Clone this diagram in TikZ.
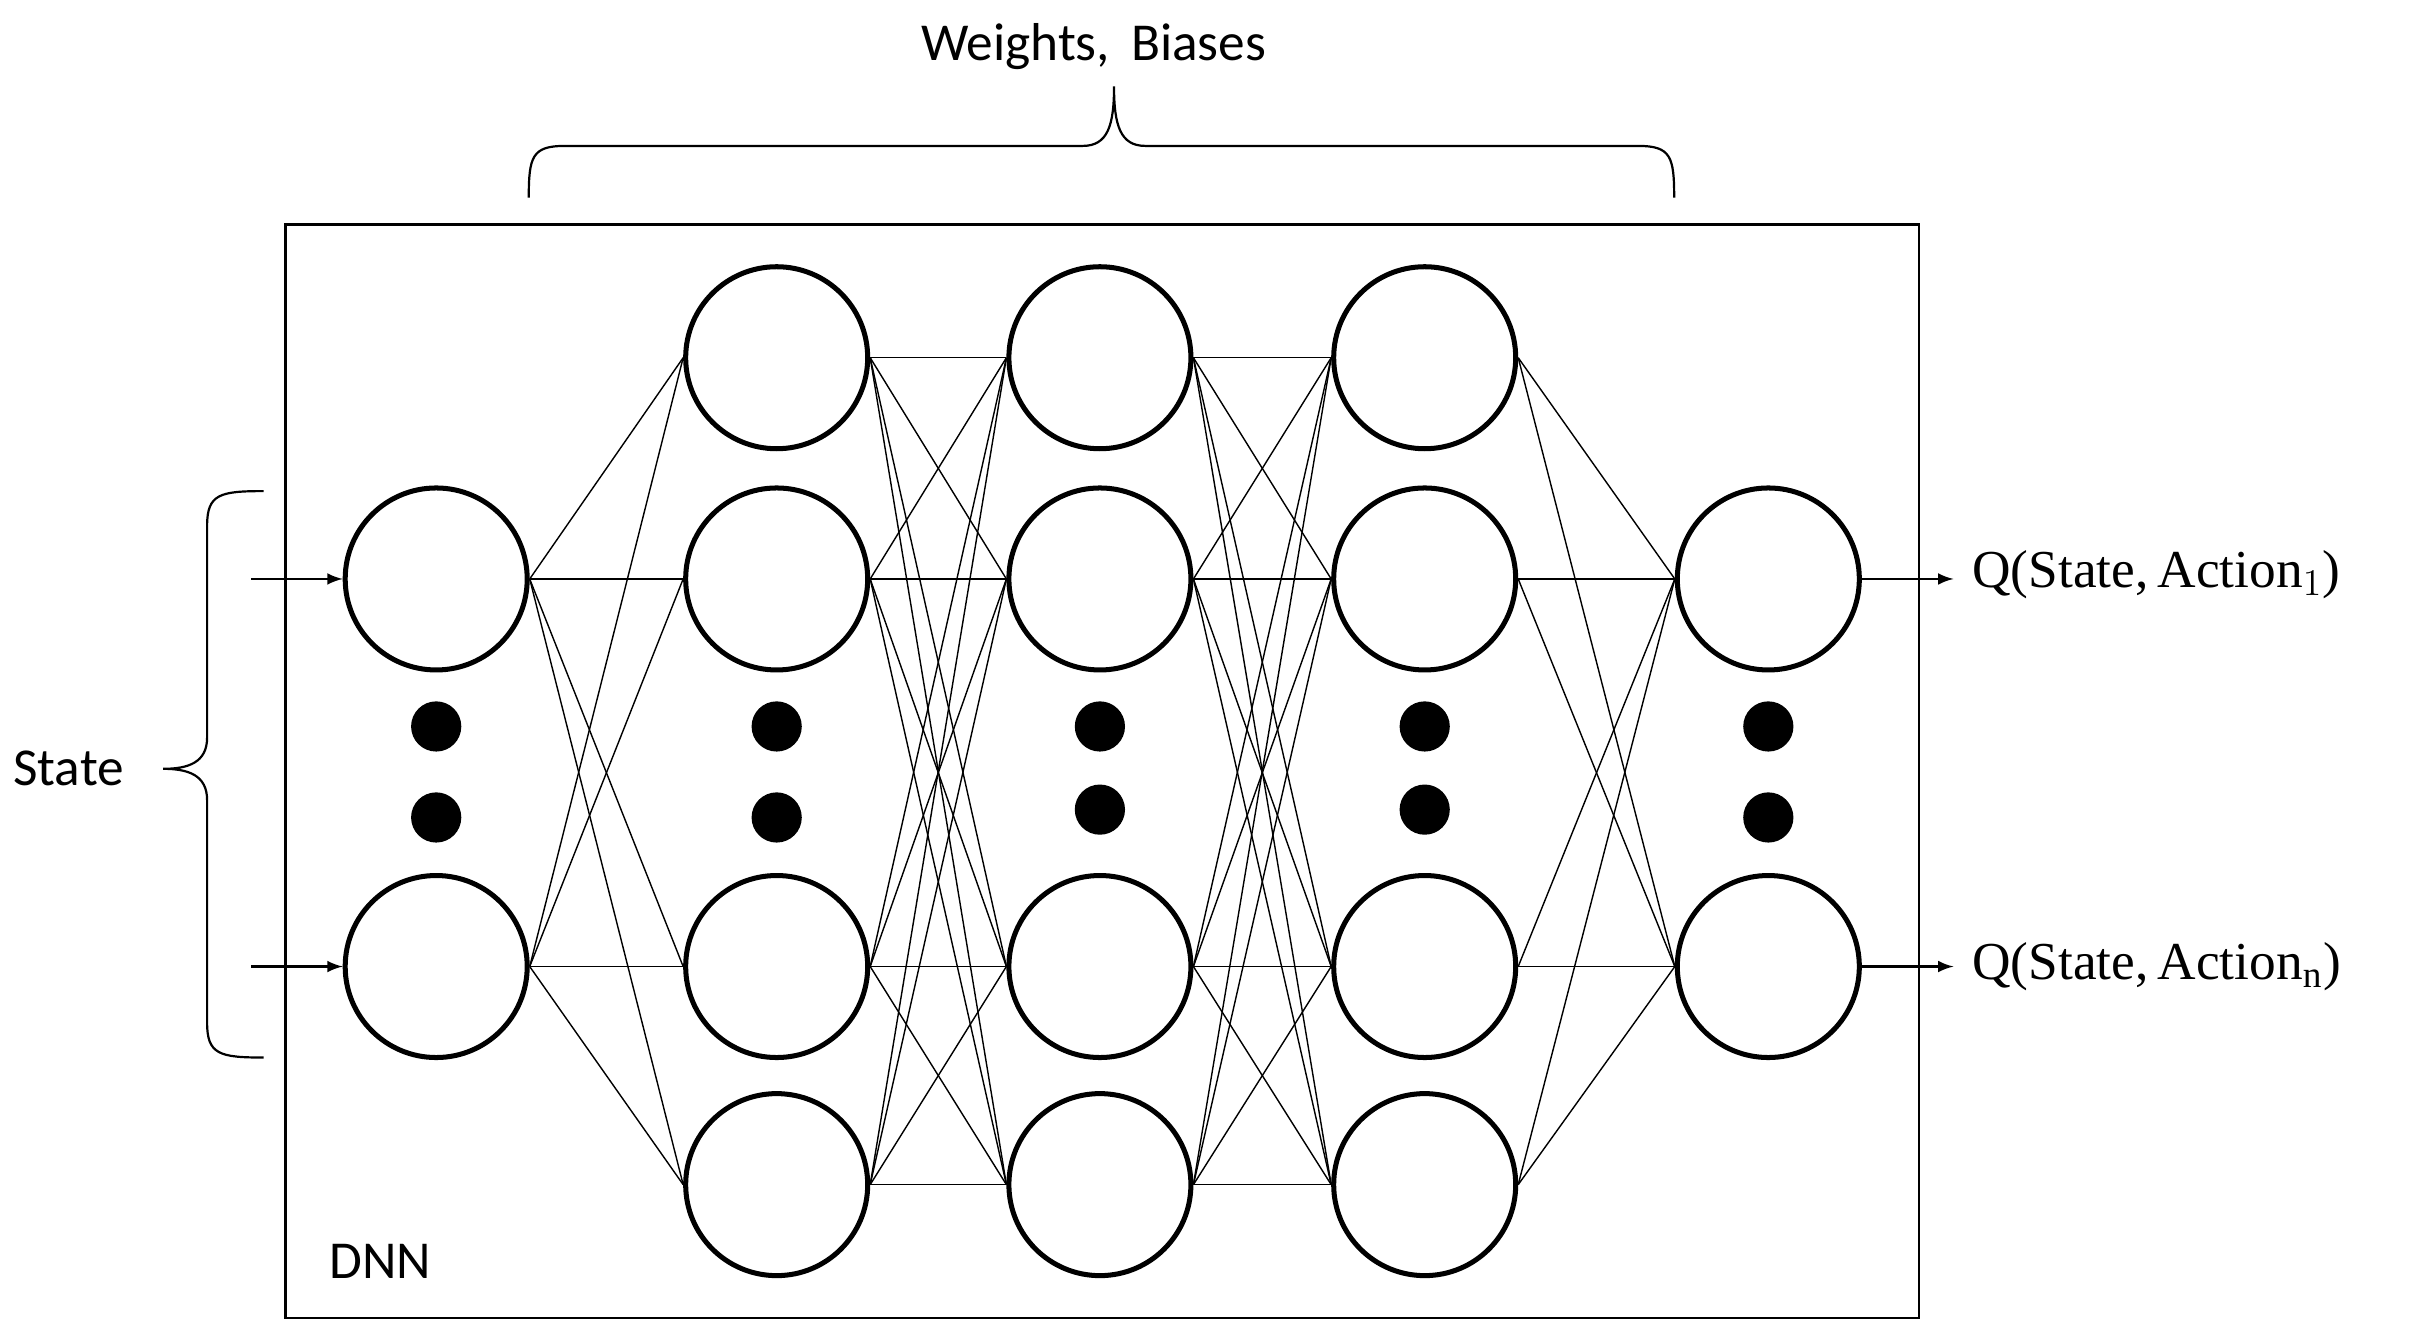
\documentclass[tikz,border=0pt]{standalone}
\usepackage{fontspec}
\setmainfont{Liberation Serif}
\newfontfamily\sansf{Carlito}
\begin{document}
\begin{tikzpicture}[x=0.5pt,y=-0.5pt,
  neuron/.style={circle,draw,line width=1.6pt,minimum size=58pt,inner sep=0pt,fill=white},
  dot/.style={circle,fill,minimum size=16pt,inner sep=0pt},
  conn/.style={line width=0.45pt},
  arr/.style={line width=0.7pt,-latex},
  brace/.style={line width=0.7pt},
  lab/.style={font=\sansf\fontsize{17}{20}\selectfont}]
\useasboundingbox (0,0) rectangle (1550,849);
\node[draw,line width=0.8pt,minimum width=520.5pt,minimum height=348.5pt,inner sep=0pt] (box) at (702.5,491.5) {};
\node[lab,anchor=south west] (dnn) at (203,822) {DNN};
% connections first (behind neurons)
\foreach \x/\n in {278/1,1127/5}{
  \coordinate (c\n r2) at (\x,369);
  \coordinate (c\n r3) at (\x,616);
}
\foreach \x/\n in {495/2,701/3,908/4}{
  \coordinate (c\n r1) at (\x,228);
  \coordinate (c\n r2) at (\x,369);
  \coordinate (c\n r3) at (\x,616);
  \coordinate (c\n r4) at (\x,755);
}
% layers
\foreach \x/\n in {278/1,1127/5}{
  \node[neuron] (l\n r2) at (\x,369) {};
  \node[neuron] (l\n r3) at (\x,616) {};
  \node[dot] (d\n a) at (\x,463) {};
  \node[dot] (d\n b) at (\x,521) {};
}
\foreach \x/\n/\yb in {495/2/521,701/3/516,908/4/516}{
  \node[neuron] (l\n r1) at (\x,228) {};
  \node[neuron] (l\n r2) at (\x,369) {};
  \node[neuron] (l\n r3) at (\x,616) {};
  \node[neuron] (l\n r4) at (\x,755) {};
  \node[dot] (d\n a) at (\x,463) {};
  \node[dot] (d\n b) at (\x,\yb) {};
}
\foreach \i in {2,3}{\foreach \j in {1,2,3,4}{
  \draw[conn] (l1r\i.east) -- (l2r\j.west);
  \draw[conn] (l4r\j.east) -- (l5r\i.west);}}
\foreach \i in {1,2,3,4}{\foreach \j in {1,2,3,4}{
  \draw[conn] (l2r\i.east) -- (l3r\j.west);
  \draw[conn] (l3r\i.east) -- (l4r\j.west);}}
% inputs / outputs
\coordinate (in1) at (160,369);
\coordinate (in2) at (160,616);
\draw[arr] (in1) -- (l1r2);
\draw[arr] (in2) -- (l1r3);
\coordinate (o1) at (1245,369);
\coordinate (o2) at (1245,616);
\draw[arr] (l5r2) -- (o1);
\draw[arr] (l5r3) -- (o2);
\node[anchor=west,font=\fontsize{17}{20}\selectfont] (q1) at (1250,366) {Q(State,\,Action$_1$)};
\node[anchor=west,font=\fontsize{17}{20}\selectfont] (qn) at (1250,616) {Q(State,\,Action$_{\mathrm{n}}$)};
% state brace
\draw[brace] (168,313) .. controls (140,313) and (132,315) .. (132,335) -- (132,470)
  .. controls (132,486) and (120,490) .. (104,490)
  .. controls (120,490) and (132,494) .. (132,510) -- (132,652)
  .. controls (132,672) and (140,674) .. (168,674);
\node[lab,anchor=east] (state) at (86,490) {State};
% top brace
\draw[brace] (337,126) .. controls (337,100) and (339,93) .. (360,93) -- (690,93)
  .. controls (706,93) and (710,80) .. (710,55)
  .. controls (710,80) and (714,93) .. (730,93) -- (1044,93)
  .. controls (1065,93) and (1067,100) .. (1067,126);
\node[lab] (wb) at (697,30) {Weights, \,Biases};
\end{tikzpicture}
\end{document}
